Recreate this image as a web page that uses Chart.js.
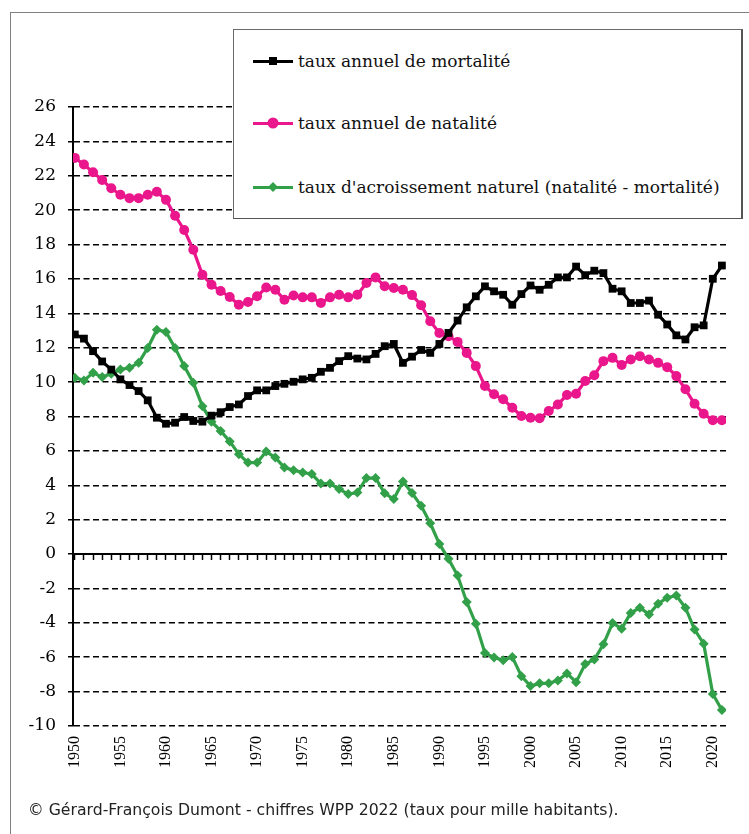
<!DOCTYPE html>
<html lang="fr">
<head>
<meta charset="utf-8">
<title>Taux de natalité, mortalité et accroissement naturel</title>
<script src="https://cdn.jsdelivr.net/npm/chart.js@4/dist/chart.umd.min.js"></script>
<style>
  html, body { margin: 0; padding: 0; background: #fff; overflow: hidden; }
  #wrap { position: relative; width: 749px; height: 834px; overflow: hidden; }
  #chart { position: absolute; left: 0; top: 0; }
  #frame { position: absolute; left: 10px; top: 12px; width: 800px; height: 900px;
           border-left: 1.5px solid #808080; border-top: 1.5px solid #808080; }
  #legend { position: absolute; left: 233px; top: 29px; width: 507px; height: 188px;
            background: #fff; border: 1px solid #6a6a6a; border-right: 2px solid #555; border-bottom: 1px solid #555; }
  .row { position: absolute; left: 19px; height: 24px; display: flex; align-items: center;
         font-family: "DejaVu Serif", "Liberation Serif", serif; font-size: 17px; color: #111; white-space: nowrap; }
  .mk { position: relative; width: 40px; height: 3px; margin-right: 5px; }
  .mk i { position: absolute; left: 50%; top: 50%; transform: translate(-50%, -50%); }
  #footer { position: absolute; left: 28px; top: 800px; font-family: "DejaVu Sans", sans-serif;
            font-size: 15.7px; color: #222; white-space: nowrap; }
</style>
</head>
<body>
<div id="wrap">
  <canvas id="chart" width="749" height="834"></canvas>
  <div id="frame"></div>
  <div id="legend"></div>
  <div id="footer">© Gérard-François Dumont - chiffres WPP 2022 (taux pour mille habitants).</div>
</div>
<script>
// --- DATA ---
const years = [
  1950, 1951, 1952, 1953, 1954, 1955, 1956, 1957, 1958, 1959,
  1960, 1961, 1962, 1963, 1964, 1965, 1966, 1967, 1968, 1969,
  1970, 1971, 1972, 1973, 1974, 1975, 1976, 1977, 1978, 1979,
  1980, 1981, 1982, 1983, 1984, 1985, 1986, 1987, 1988, 1989,
  1990, 1991, 1992, 1993, 1994, 1995, 1996, 1997, 1998, 1999,
  2000, 2001, 2002, 2003, 2004, 2005, 2006, 2007, 2008, 2009,
  2010, 2011, 2012, 2013, 2014, 2015, 2016, 2017, 2018, 2019,
  2020, 2021
];

const mortalite = [
  12.77, 12.53, 11.80, 11.20, 10.73, 10.16, 9.83, 9.48, 8.94, 7.93,
  7.58, 7.64, 7.97, 7.74, 7.70, 8.05, 8.25, 8.55, 8.70, 9.19,
  9.52, 9.52, 9.77, 9.90, 10.02, 10.16, 10.25, 10.60, 10.83, 11.22,
  11.51, 11.37, 11.32, 11.64, 12.09, 12.22, 11.12, 11.48, 11.87, 11.70,
  12.22, 12.86, 13.58, 14.35, 14.99, 15.57, 15.28, 15.08, 14.50, 15.12,
  15.62, 15.37, 15.66, 16.09, 16.09, 16.72, 16.22, 16.48, 16.34, 15.43,
  15.28, 14.60, 14.60, 14.74, 13.92, 13.35, 12.72, 12.48, 13.19, 13.30,
  16.01, 16.78
];

const natalite = [
  23.04, 22.66, 22.20, 21.75, 21.27, 20.90, 20.70, 20.70, 20.90, 21.07,
  20.60, 19.68, 18.85, 17.70, 16.24, 15.66, 15.30, 14.95, 14.50, 14.66,
  14.99, 15.50, 15.37, 14.79, 15.04, 14.93, 14.93, 14.60, 14.93, 15.08,
  14.93, 15.08, 15.76, 16.09, 15.57, 15.47, 15.37, 15.06, 14.47, 13.54,
  12.86, 12.67, 12.34, 11.70, 10.93, 9.77, 9.29, 9.00, 8.51, 8.03,
  7.93, 7.90, 8.32, 8.70, 9.25, 9.32, 10.06, 10.40, 11.22, 11.41,
  10.99, 11.32, 11.51, 11.32, 11.12, 10.87, 10.35, 9.58, 8.74, 8.16,
  7.78, 7.78
];

const accroissement = [
  10.25, 10.10, 10.54, 10.29, 10.48, 10.73, 10.83, 11.12, 11.99, 13.05,
  12.92, 11.99, 10.93, 9.96, 8.60, 7.70, 7.16, 6.55, 5.81, 5.32,
  5.32, 5.96, 5.61, 5.03, 4.88, 4.74, 4.65, 4.10, 4.10, 3.78,
  3.49, 3.58, 4.42, 4.42, 3.53, 3.20, 4.22, 3.55, 2.81, 1.79,
  0.59, -0.28, -1.25, -2.79, -4.05, -5.75, -6.02, -6.17, -5.98, -7.10,
  -7.68, -7.52, -7.52, -7.35, -6.94, -7.45, -6.40, -6.13, -5.25, -4.01,
  -4.34, -3.43, -3.12, -3.51, -2.89, -2.54, -2.41, -3.12, -4.39, -5.21,
  -8.14, -9.07
];

const xTickYears = [1950, 1955, 1960, 1965, 1970, 1975, 1980, 1985, 1990, 1995, 2000, 2005, 2010, 2015, 2020];

const seriesLabels = [
  'taux annuel de mortalité',
  'taux annuel de natalité',
  "taux d'acroissement naturel (natalité - mortalité)"
];

// --- STYLES ---
const BLACK = '#000000';
const PINK = '#ea168b';
const GREEN = '#31a048';
const SERIF = '"Liberation Serif", "Times New Roman", "DejaVu Serif", serif';
const SERIF2 = '"DejaVu Serif", "Liberation Serif", serif';

const toPoints = (vals) => vals.map((v, i) => ({ x: years[i], y: v }));

// --- HTML LEGEND ---
const legendDefs = [
  { label: seriesLabels[0], color: BLACK, marker: 'width:8px;height:8px;background:' + BLACK, top: 19 },
  { label: seriesLabels[1], color: PINK, marker: 'width:11px;height:11px;border-radius:50%;background:' + PINK, top: 81 },
  { label: seriesLabels[2], color: GREEN, marker: 'width:7px;height:7px;transform:translate(-50%,-50%) rotate(45deg);background:' + GREEN, top: 145 }
];
const legendEl = document.getElementById('legend');
legendDefs.forEach(d => {
  const row = document.createElement('div');
  row.className = 'row';
  row.style.top = d.top + 'px';
  row.innerHTML = `<span class="mk" style="background:${d.color}"><i style="${d.marker}"></i></span><span>${d.label}</span>`;
  legendEl.appendChild(row);
});

// --- CHART ---
const X_MIN = 1949.8;
const X_MAX = 2021.45;

const ctx = document.getElementById('chart').getContext('2d');
new Chart(ctx, {
  type: 'line',
  data: {
    datasets: [
      {
        label: seriesLabels[0],
        data: toPoints(mortalite),
        borderColor: BLACK, backgroundColor: BLACK,
        borderWidth: 3.2, pointStyle: 'rect', pointRadius: 5.5,
        pointBorderWidth: 0, tension: 0
      },
      {
        label: seriesLabels[1],
        data: toPoints(natalite),
        borderColor: PINK, backgroundColor: PINK,
        borderWidth: 3.2, pointStyle: 'circle', pointRadius: 5,
        pointBorderWidth: 0, tension: 0
      },
      {
        label: seriesLabels[2],
        data: toPoints(accroissement),
        borderColor: GREEN, backgroundColor: GREEN,
        borderWidth: 3.2, pointStyle: 'rectRot', pointRadius: 5,
        pointBorderWidth: 0, tension: 0
      }
    ]
  },
  options: {
    responsive: false,
    animation: false,
    devicePixelRatio: 1,
    layout: { padding: { left: 0, top: 107, right: 23, bottom: 40 } },
    plugins: { legend: { display: false }, tooltip: { enabled: false } },
    scales: {
      x: {
        type: 'linear', position: 'bottom',
        min: X_MIN, max: X_MAX,
        afterBuildTicks: (scale) => { scale.ticks = xTickYears.map(v => ({ value: v })); },
        afterFit: (scale) => { scale.height = 68; },
        grid: { display: false, drawTicks: false },
        border: { display: false },
        ticks: {
          autoSkip: false, minRotation: 90, maxRotation: 90, padding: 10,
          color: '#000', font: { family: SERIF, size: 16 },
          callback: (v) => String(v)
        }
      },
      x0: {
        type: 'linear', axis: 'x', position: { y: 0 },
        min: X_MIN, max: X_MAX,
        afterBuildTicks: (scale) => { scale.ticks = years.map(v => ({ value: v })); },
        grid: { display: true, drawOnChartArea: false, drawTicks: true, tickLength: 5,
                tickColor: '#000', tickWidth: 1.5 },
        border: { display: true, color: '#000', width: 2 },
        ticks: { display: false }
      },
      y: {
        type: 'linear', position: 'left',
        min: -10, max: 26,
        afterFit: (scale) => { scale.width = 73; },
        grid: {
          color: (c) => (c.tick && c.tick.value === 0 ? 'rgba(0,0,0,0)' : '#000'),
          lineWidth: 1.5, tickLength: 5, tickColor: '#000', tickWidth: 1.5
        },
        border: { display: true, color: '#000', width: 2, dash: [6, 3.5] },
        ticks: {
          stepSize: 2, padding: 12, color: '#000',
          font: { family: SERIF2, size: 17 }
        }
      }
    }
  }
});
</script>
</body>
</html>
